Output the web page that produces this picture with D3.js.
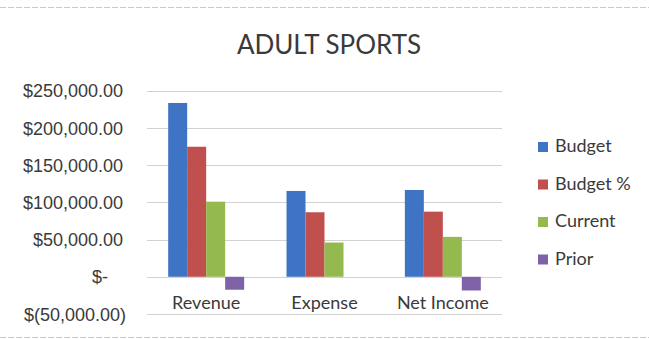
<!DOCTYPE html>
<html>
<head>
<meta charset="utf-8">
<script src="https://cdn.jsdelivr.net/npm/d3@7"></script>
<style>
  body { margin: 0; background: #fff; }
  svg { display: block; font-family: Lato, "Open Sans", sans-serif; }
</style>
</head>
<body>
<figure id="chart" style="margin:0"></figure>
<script>
// chart data
const categories = ["Revenue", "Expense", "Net Income"];
const seriesNames = ["Budget", "Budget %", "Current", "Prior"];
const budget = [233500, 115300, 116600];
const budgetPct = [174700, 86700, 87500];
const current = [100900, 46000, 53600];
const prior = [-17400, 0, -18400];
const yTicks = [-50000, 0, 50000, 100000, 150000, 200000, 250000];
const colors = ["#3f74c4", "#c0504d", "#93b94f", "#7e62a8"];

const width = 649, height = 339;
const plot = { left: 147, right: 502, top: 90.7, bottom: 314 };

const svg = d3.select("figure#chart")
  .append("svg")
  .attr("width", width)
  .attr("height", height);

// faint page rules from the scan
svg.append("line").attr("x1", 0).attr("x2", width).attr("y1", 7.5).attr("y2", 7.5)
  .attr("stroke", "#c9c9c9").attr("stroke-width", 1).attr("stroke-dasharray", "6,2");
svg.append("line").attr("x1", 0).attr("x2", width).attr("y1", 337.5).attr("y2", 337.5)
  .attr("stroke", "#c9c9c9").attr("stroke-width", 1).attr("stroke-dasharray", "6,2");

const yScale = d3.scaleLinear()
  .domain([-50000, 250000])
  .range([plot.bottom, plot.top]);

const x0 = d3.scaleBand()
  .domain(categories)
  .range([plot.left, plot.right])
  .paddingInner(0.358)
  .paddingOuter(0.179);

const x1 = d3.scaleBand()
  .domain(seriesNames)
  .range([0, x0.bandwidth()])
  .padding(0);

// accounting style tick labels
const fmt = v => {
  if (v === 0) return "$-";
  const s = d3.format(",.2f")(Math.abs(v));
  return v < 0 ? "$(" + s + ")" : "$" + s;
};

// gridlines
svg.append("g")
  .selectAll("line")
  .data(yTicks)
  .join("line")
  .attr("x1", plot.left)
  .attr("x2", plot.right)
  .attr("y1", d => Math.round(yScale(d)) + 0.5)
  .attr("y2", d => Math.round(yScale(d)) + 0.5)
  .attr("stroke", "#d2d2d2")
  .attr("stroke-width", 1);

// y axis labels
const yAxis = svg.append("g")
  .attr("transform", `translate(${plot.left - 24},0)`)
  .call(d3.axisLeft(yScale).tickValues(yTicks).tickFormat(fmt).tickSize(0).tickPadding(0))
  .call(g => g.select(".domain").remove());
yAxis.selectAll("text")
  .attr("fill", "#3a3a3a")
  .attr("font-size", "18px")
  .attr("dy", "0.34em")
  .attr("dx", d => d < 0 ? 3 : (d === 0 ? -15 : 0));

// bars
const series = [budget, budgetPct, current, prior];
const rows = [];
series.forEach((vals, i) => vals.forEach((v, j) => rows.push({ s: seriesNames[i], c: categories[j], v, i })));

svg.append("g")
  .selectAll("rect")
  .data(rows.filter(d => d.v !== 0))
  .join("rect")
  .attr("x", d => x0(d.c) + x1(d.s))
  .attr("width", x1.bandwidth())
  .attr("y", d => yScale(Math.max(0, d.v)))
  .attr("height", d => Math.abs(yScale(d.v) - yScale(0)))
  .attr("fill", d => colors[d.i]);

// category labels
svg.append("g")
  .selectAll("text")
  .data(categories)
  .join("text")
  .attr("x", d => x0(d) + x0.bandwidth() / 2)
  .attr("y", 309)
  .attr("text-anchor", "middle")
  .attr("font-size", "18px")
  .attr("fill", "#3a3a3a")
  .text(d => d);

// title
svg.append("text")
  .attr("x", 329)
  .attr("y", 54)
  .attr("text-anchor", "middle")
  .attr("font-size", "26px")
  .attr("fill", "#3a3a3a")
  .text("ADULT SPORTS");

// legend
const legend = svg.append("g")
  .selectAll("g")
  .data(seriesNames)
  .join("g")
  .attr("transform", (d, i) => `translate(538,${152 + i * 37.5})`);
legend.append("rect")
  .attr("y", -10)
  .attr("width", 10)
  .attr("height", 10)
  .attr("fill", (d, i) => colors[i]);
legend.append("text")
  .attr("x", 17)
  .attr("y", 0)
  .attr("font-size", "18px")
  .attr("fill", "#3a3a3a")
  .text(d => d);
</script>
</body>
</html>
